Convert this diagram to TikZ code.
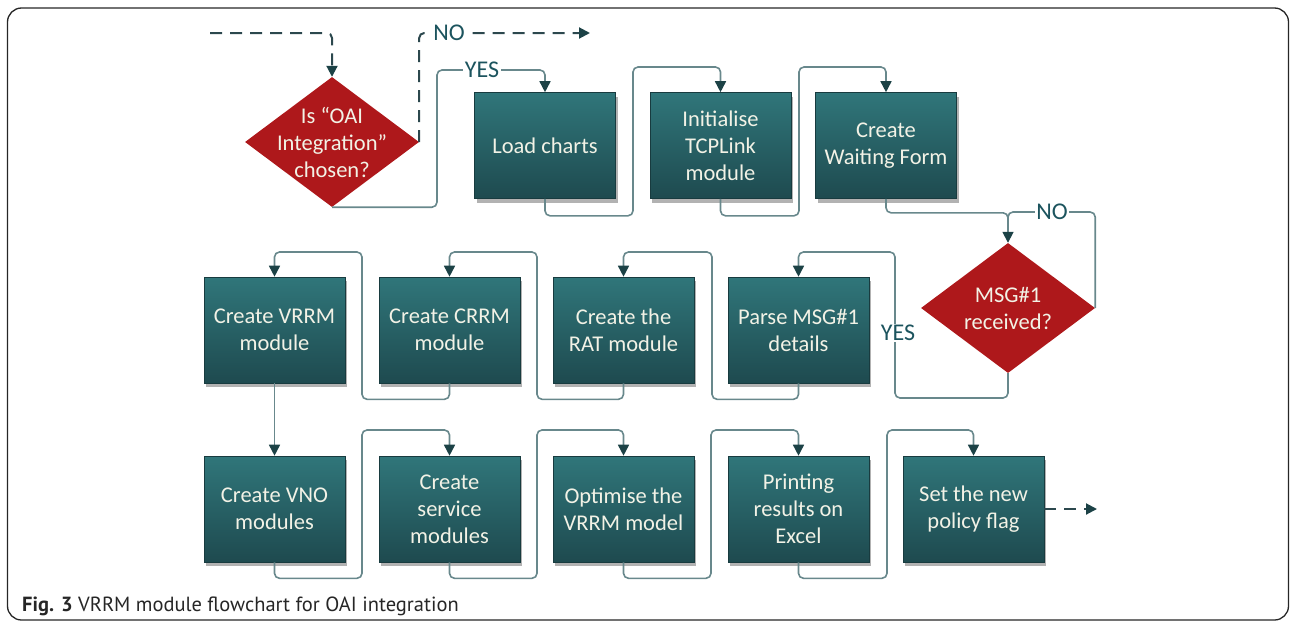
\documentclass[tikz,border=0pt]{standalone}
\usepackage{fontspec}
\setmainfont{Carlito}
\newfontfamily\capfont{PT Sans}
\usetikzlibrary{shapes.geometric,arrows.meta,shadows}
\definecolor{boxtop}{RGB}{48,118,122}
\definecolor{boxbot}{RGB}{30,74,79}
\definecolor{decred}{RGB}{174,24,27}
\definecolor{connc}{RGB}{104,136,140}
\definecolor{arrc}{RGB}{28,66,70}
\definecolor{dashc}{RGB}{44,72,78}
\definecolor{labc}{RGB}{28,84,94}
\definecolor{boxtxt}{RGB}{242,242,230}
\tikzset{
  procbox/.style={rectangle, minimum width=141pt, minimum height=106pt, inner sep=0pt,
    top color=boxtop, bottom color=boxbot, draw=boxbot!80!black, line width=0.6pt,
    drop shadow={shadow xshift=2pt, shadow yshift=-4pt, opacity=0.3, fill=black},
    text=boxtxt, align=center, font=\fontsize{22.5}{27}\selectfont},
  decision/.style={diamond, minimum width=174pt, minimum height=130pt, inner sep=0pt,
    fill=decred},
  dtext/.style={text=boxtxt, align=center, font=\fontsize{22.5}{27}\selectfont},
  conn/.style={draw=connc, line width=1.6pt, rounded corners=5pt,
    -{Triangle[width=11pt,length=11pt,color=arrc]}},
  plainconn/.style={draw=connc, line width=1.6pt, rounded corners=5pt},
  dashline/.style={draw=dashc, line width=2pt, dash pattern=on 12pt off 8pt,
    rounded corners=5pt, -{Triangle[width=11pt,length=11pt,color=arrc]}},
  lab/.style={fill=white, inner sep=1.5pt, text=labc, font=\fontsize{24}{28}\selectfont}
}
\begin{document}
\begin{tikzpicture}[x=1pt,y=-1pt]
\useasboundingbox (0,0) rectangle (1290,624);
\draw[line width=1.3pt, black!85, rounded corners=14pt] (7.5,8) rectangle (1288.5,620);

% row 1
\node[decision] (d1) at (332,142) {};
\node[dtext] (d1t) at (d1.center) {Is “OAI\\Integration”\\chosen?};
\node[procbox] (load) at (545,145.5) {Load charts};
\node[procbox] (init) at (720.5,145.5) {Initialise\\TCPLink\\module};
\node[procbox] (wait) at (886,145.5) {Create\\Waiting Form};
\node[decision] (d2) at (1008,308) {};
\node[dtext] (d2t) at (d2.center) {MSG\#1\\received?};

% row 2
\node[procbox] (vrrm) at (274.5,330) {Create VRRM\\module};
\node[procbox] (crrm) at (449.5,330) {Create CRRM\\module};
\node[procbox] (rat) at (623.5,330) {Create the\\RAT module};
\node[procbox] (parse) at (798.5,330) {Parse MSG\#1\\details};

% row 3
\node[procbox] (vno) at (274.5,509) {Create VNO\\modules};
\node[procbox] (serv) at (449.5,509) {Create\\service\\modules};
\node[procbox] (opt) at (623.5,509) {Optimise the\\VRRM model};
\node[procbox] (print) at (798.5,509) {Printing\\results on\\Excel};
\node[procbox] (setf) at (973.5,509) {Set the new\\policy flag};

\coordinate (start) at (210,33);
\coordinate (noend) at (590,33);
\coordinate (finish) at (1097,509);

% connectors row 1
\draw[dashline] (start) -| (d1.north);
\draw[dashline] (d1.east) |- (noend);
\node[lab] (nolab1) at (449,33) {NO};
\draw[conn] (d1.south) -| (437,70) -| (load.north);
\node[lab] (yeslab1) at (482,70) {YES};
\draw[conn] (load.south) -- ++(0,17) -| (633,67) -| (init.north);
\draw[conn] (init.south) -- ++(0,17) -| (799,67) -| (wait.north);
\draw[conn] (wait.south) -- ++(0,14) -| (d2.north);
\draw[plainconn] (d2.east) |- (1008,212) -- ++(0,12);
\node[lab] (nolab2) at (1052,212) {NO};
\draw[conn] (d2.south) |- (895,398) -- (895,252) -| (parse.north);
\node[lab] (yeslab2) at (898,333) {YES};

% connectors row 2
\draw[conn] (parse.south) -- ++(0,16) -| (712,252) -| (rat.north);
\draw[conn] (rat.south) -- ++(0,16) -| (537,252) -| (crrm.north);
\draw[conn] (crrm.south) -- ++(0,16) -| (362,252) -| (vrrm.north);
\draw[conn] (vrrm.south) -- (vno.north);

% connectors row 3
\draw[conn] (vno.south) -- ++(0,16) -| (362,430) -| (serv.north);
\draw[conn] (serv.south) -- ++(0,16) -| (537,430) -| (opt.north);
\draw[conn] (opt.south) -- ++(0,16) -| (711,430) -| (print.north);
\draw[conn] (print.south) -- ++(0,16) -| (887,430) -| (setf.north);
\draw[dashline] (setf.east) -- (finish);

% caption
\node[anchor=base west, inner sep=0pt, font=\capfont\fontsize{20.5}{24}\selectfont, text=black!85] (cap) at (22,611) {\textbf{Fig. 3} VRRM module flowchart for OAI integration};
\end{tikzpicture}
\end{document}
